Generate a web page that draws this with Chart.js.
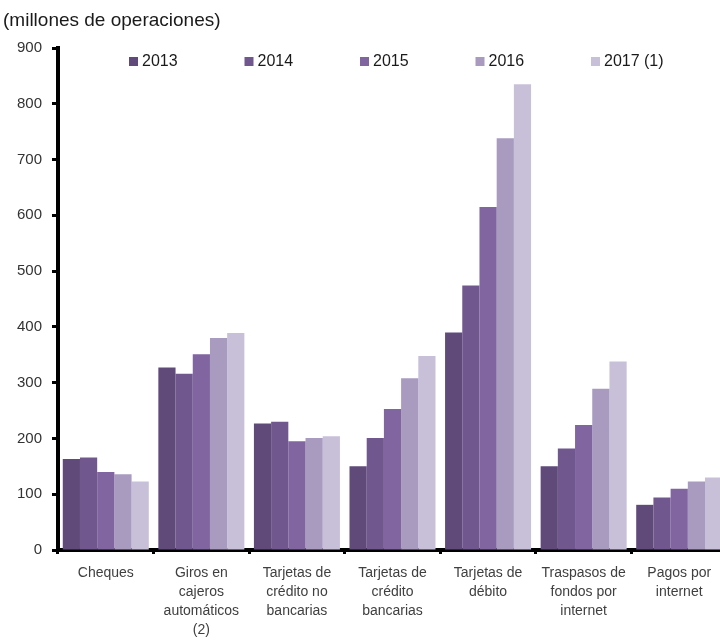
<!DOCTYPE html>
<html>
<head>
<meta charset="utf-8">
<script src="https://cdn.jsdelivr.net/npm/chart.js@4.4.1/dist/chart.umd.min.js"></script>
<style>
    html, body { margin: 0; padding: 0; background: #fff; overflow: hidden; }
    #wrap { position: absolute; left: 0; top: 0; width: 727px; height: 641px; }
</style>
</head>
<body>
<div id="wrap"><canvas id="ops-chart"></canvas></div>
<script>
// Operaciones por medio de pago, millones
const categories = [
    'Cheques',
    ['Giros en', 'cajeros', 'automáticos', '(2)'],
    ['Tarjetas de', 'crédito no', 'bancarias'],
    ['Tarjetas de', 'crédito', 'bancarias'],
    ['Tarjetas de', 'débito'],
    ['Traspasos de', 'fondos por', 'internet'],
    ['Pagos por', 'internet']
];
const years = ['2013', '2014', '2015', '2016', '2017 (1)'];
const values2013 = [163, 327, 227, 150, 390, 150, 81];
const values2014 = [166, 316, 230, 201, 474, 182, 94];
const values2015 = [140, 351, 195, 253, 615, 224, 110];
const values2016 = [136, 380, 201, 308, 738, 289, 123];
const values2017 = [123, 389, 204, 348, 835, 338, 130];
const yTicks = [0, 100, 200, 300, 400, 500, 600, 700, 800, 900];

const colors = ['#5f4a7a', '#70588f', '#8165a1', '#a99bc0', '#c8c0d8'];
const series = [values2013, values2014, values2015, values2016, values2017];

// Title and legend sit inside the plot area, drawn by hand
const overlay = {
    id: 'overlay',
    afterDraw(chart) {
        const ctx = chart.ctx;
        ctx.save();
        ctx.fillStyle = '#1a1a1a';
        ctx.font = '19px "Liberation Sans", Arial, sans-serif';
        ctx.textAlign = 'left';
        ctx.textBaseline = 'middle';
        ctx.fillText('(millones de operaciones)', 3, 21);

        ctx.font = '16px "Liberation Sans", Arial, sans-serif';
        chart.data.datasets.forEach((ds, i) => {
            const x = 129 + i * 115.5;
            ctx.fillStyle = ds.backgroundColor;
            ctx.fillRect(x, 57, 9, 9);
            ctx.fillStyle = '#1a1a1a';
            ctx.fillText(ds.label, x + 13, 62);
        });
        ctx.restore();
    }
};

new Chart(document.getElementById('ops-chart'), {
    type: 'bar',
    data: {
        labels: categories,
        datasets: years.map((y, i) => ({
            label: y,
            data: series[i],
            backgroundColor: colors[i],
            borderWidth: 0,
            categoryPercentage: 0.9,
            barPercentage: 1.0
        }))
    },
    options: {
        responsive: true,
        maintainAspectRatio: false,
        animation: false,
        layout: { padding: { left: 0, top: 48, right: 0, bottom: 0 } },
        plugins: {
            legend: { display: false },
            tooltip: { enabled: false }
        },
        scales: {
            y: {
                min: 0,
                max: 900,
                afterFit: scale => { scale.width = 58; },
                afterBuildTicks: scale => { scale.ticks = yTicks.map(v => ({ value: v })); },
                border: { display: true, color: '#000', width: 4 },
                grid: {
                    drawOnChartArea: false,
                    color: '#000',
                    tickLength: 6,
                    tickWidth: 3
                },
                ticks: {
                    color: '#333',
                    padding: 10,
                    font: { family: '"Liberation Sans", Arial, sans-serif', size: 15 }
                }
            },
            x: {
                afterFit: scale => { scale.height = 91; },
                border: { display: true, color: '#000', width: 4 },
                grid: {
                    drawOnChartArea: false,
                    color: '#000',
                    tickLength: 4,
                    tickWidth: 3
                },
                ticks: {
                    color: '#404040',
                    padding: 10,
                    maxRotation: 0,
                    autoSkip: false,
                    font: { family: '"Liberation Sans", Arial, sans-serif', size: 14, lineHeight: 1.36 }
                }
            }
        }
    },
    plugins: [overlay]
});
</script>
</body>
</html>
